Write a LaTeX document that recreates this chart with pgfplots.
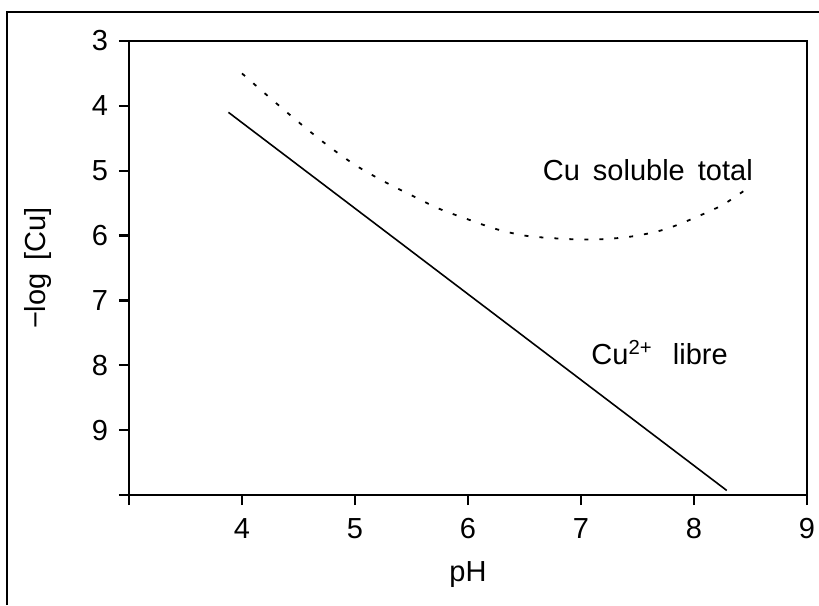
\documentclass[border=0pt]{standalone}
\usepackage{pgfplots}
\pgfplotsset{compat=1.18}
\usepackage{fontspec}
\setmainfont{Liberation Sans}

\begin{document}
\begin{tikzpicture}
\useasboundingbox (-64.5pt,-55pt) rectangle (345pt,247.5pt);
\begin{axis}[
  scale only axis,
  width=339pt, height=227pt,
  xmin=3, xmax=9, ymin=3, ymax=10,
  y dir=reverse,
  axis line style={line width=1.2pt},
  tick align=outside,
  tick pos=left,
  major tick length=5pt,
  every tick/.style={line width=1.2pt, black},
  xtick={3,4,5,6,7,8,9},
  xticklabels={,4,5,6,7,8,9},
  ytick={3,4,5,6,7,8,9,10},
  yticklabels={3,4,5,6,7,8,9,},
  /pgf/number format/assume math mode=true,
  tick label style={font=\fontsize{14.5}{16}\selectfont},
  xticklabel style={yshift=-3pt},
  yticklabel style={xshift=-2pt},
  clip=false,
]
% free Cu2+ activity
\addplot[black, line width=0.8pt] coordinates {(3.88,4.10) (8.29,9.93)};
% total soluble copper
\addplot[black, line width=0.9pt, smooth, dash pattern=on 2pt off 5.5pt] coordinates {
  (4.00,3.50) (4.25,3.88) (4.50,4.25) (4.75,4.60) (5.00,4.91)
  (5.25,5.16) (5.50,5.38) (5.75,5.59) (6.00,5.75) (6.25,5.90)
  (6.50,6.00) (6.75,6.04) (7.00,6.06) (7.25,6.05) (7.50,6.00)
  (7.75,5.90) (8.00,5.73) (8.25,5.53) (8.45,5.30)};
\node[anchor=west, font=\fontsize{14.5}{16}\selectfont] at (axis cs:6.60,4.99) {Cu\hspace{0.45em}soluble\hspace{0.45em}total};
\node[anchor=west, font=\fontsize{14.5}{16}\selectfont] at (axis cs:7.03,7.80) {Cu\textsuperscript{2+}\hspace{0.7em}libre};
\node[xshift=-45.5pt, rotate=90, font=\fontsize{14.5}{16}\selectfont] at (axis description cs:0,0.5) {\textminus log\hspace{0.45em}[Cu]};
\node[yshift=-40pt, font=\fontsize{14.5}{16}\selectfont] at (axis description cs:0.5,0) {pH};
\end{axis}
% page frame
\draw[line width=0.6pt] (-61pt,-55pt) -- (-61pt,241.5pt) -- (345pt,241.5pt);
\end{tikzpicture}
\end{document}
